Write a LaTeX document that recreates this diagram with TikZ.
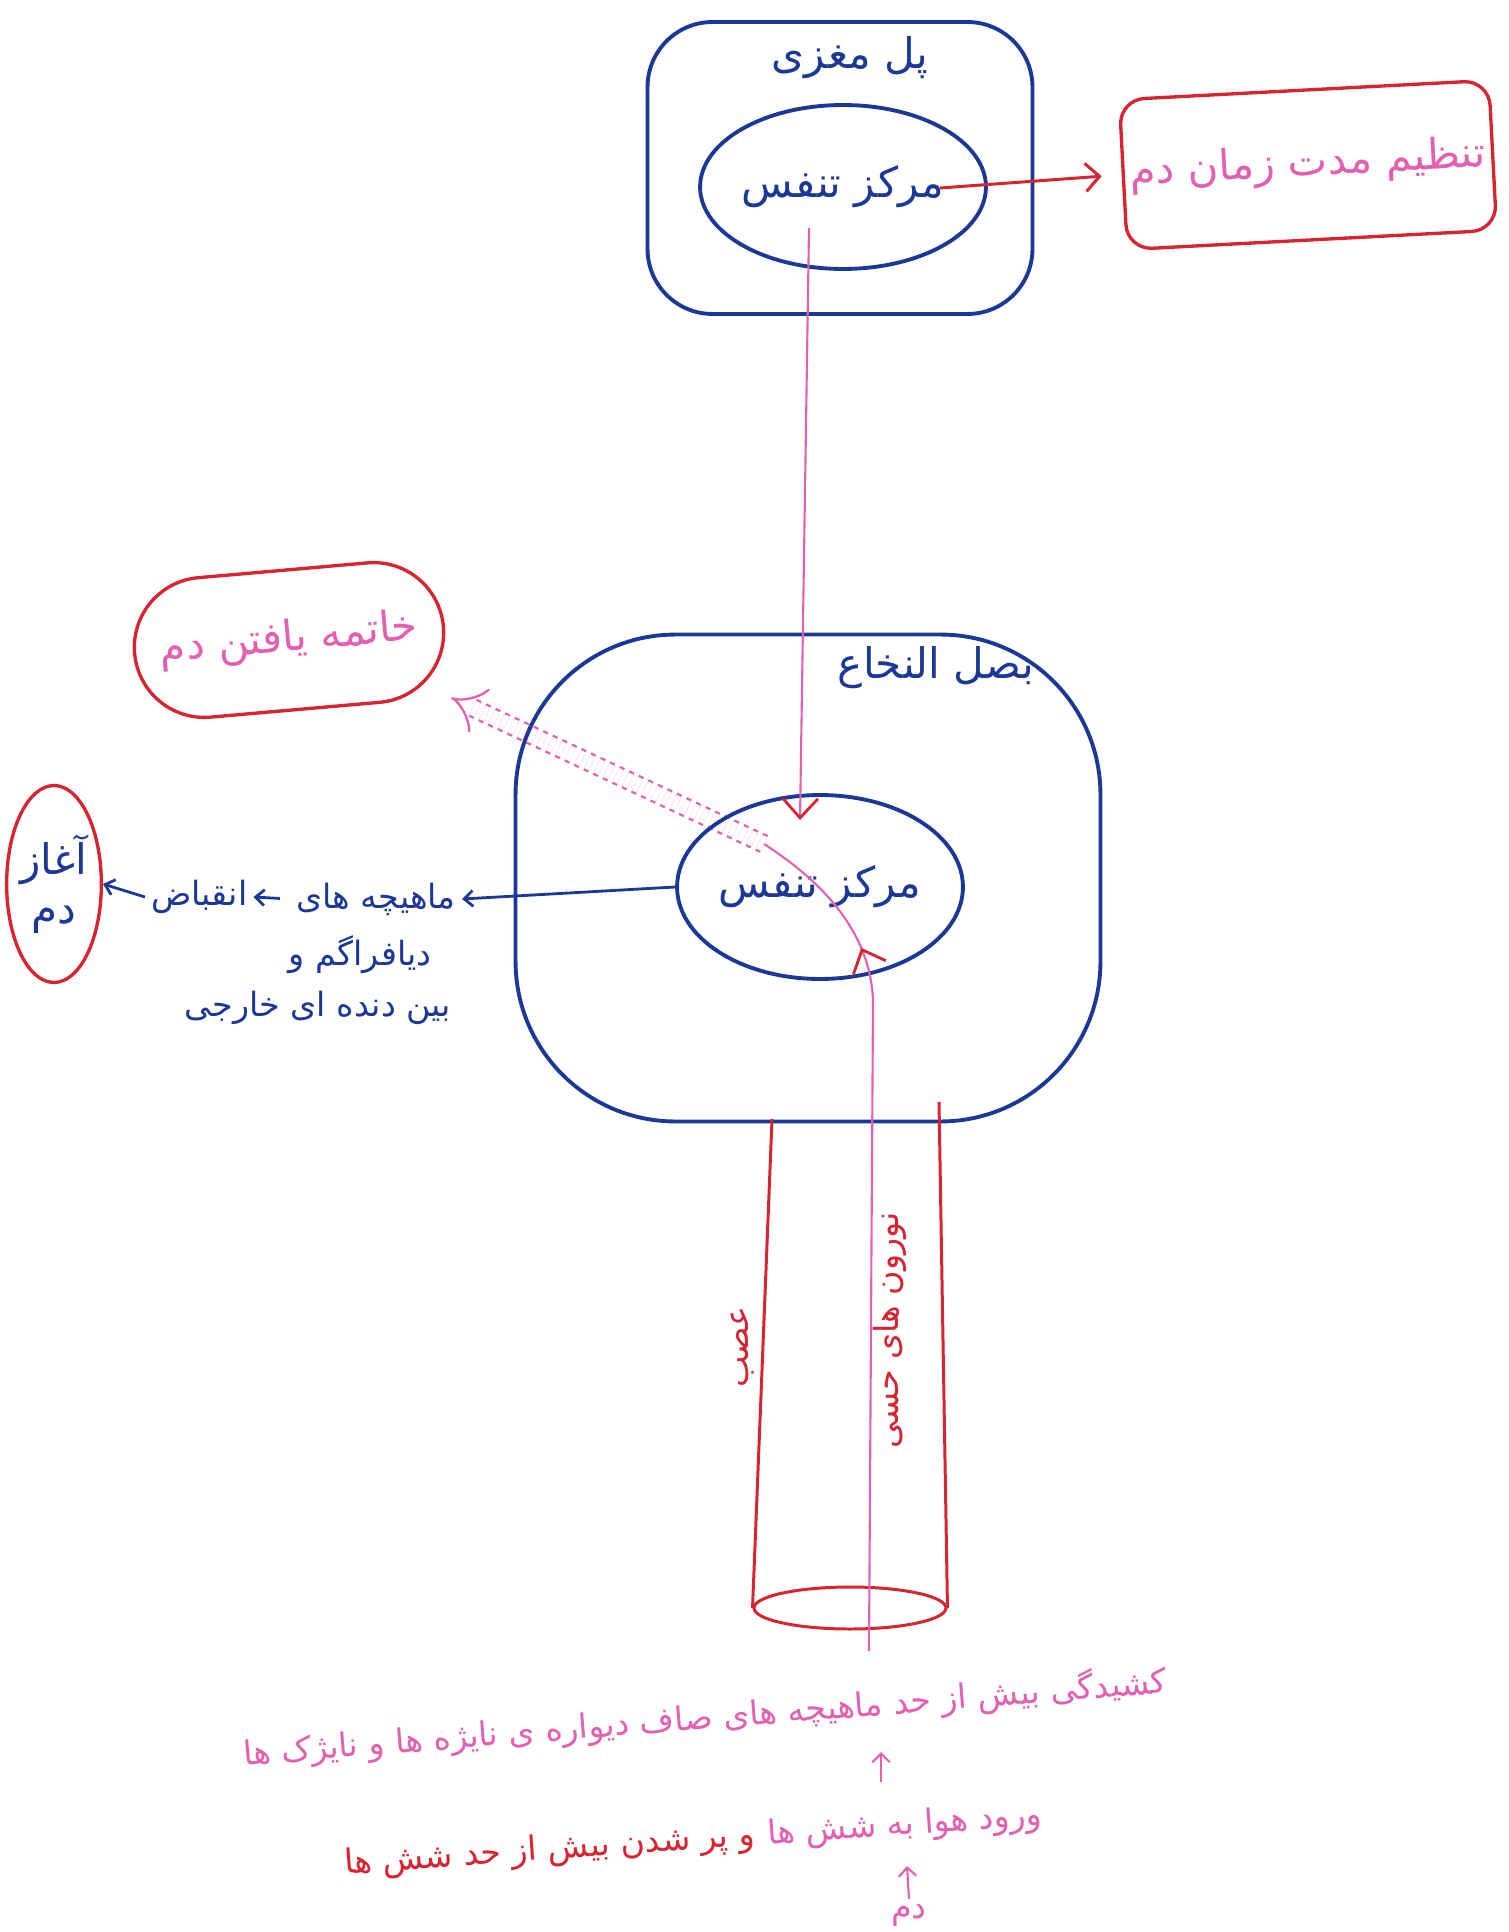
\documentclass[tikz,border=0pt]{standalone}
\usepackage{fontspec}
\usepackage{tikz}
\usetikzlibrary{arrows.meta,shapes.geometric,decorations.markings}
\newfontfamily\fafont[Script=Arabic]{DejaVu Sans}
\TeXXeTstate=1
\newcommand{\fatext}[1]{{\fafont\beginR #1\endR}}

\definecolor{penblue}{RGB}{28,56,150}
\definecolor{penred}{RGB}{214,36,48}
\definecolor{penpink}{RGB}{226,96,178}

\pgfdeclarelayer{background}
\pgfsetlayers{background,main}

\tikzset{
  bigfa/.style={font=\fontsize{24}{28}\selectfont},
  midfa/.style={font=\fontsize{19}{23}\selectfont},
  bluebox/.style={draw=penblue, line width=2.2pt},
  centre/.style={ellipse, draw=penblue, line width=2.2pt, text=penblue, inner sep=0pt, bigfa},
  redbox/.style={draw=penred, line width=1.9pt, text=penpink, bigfa},
  blueline/.style={draw=penblue, line width=1.6pt, -{Straight Barb[length=5pt,width=9pt]}},
  redline/.style={draw=penred, line width=1.7pt},
  pinkline/.style={draw=penpink, line width=1.2pt},
  redbarb/.style={-{Straight Barb[color=penred,length=11pt,width=20pt,line width=1.6pt]}},
}

\begin{document}
\begin{tikzpicture}[x=0.02cm, y=-0.02cm]
  \useasboundingbox (0,0) rectangle (1508,1932);

  % pons
  \node[bluebox, rounded corners=1.3cm, minimum width=7.7cm, minimum height=5.84cm] (pons) at (840,168) {};
  \node[text=penblue, bigfa] (ponsLabel) at (850,58) {\fatext{پل مغزی}};
  \node[centre, minimum width=4.72cm, minimum height=3.28cm] (ponsCentre) at (843,187) {\fatext{مرکز تنفس}};

  \node[redbox, rounded corners=0.5cm, rotate=3, minimum width=7.4cm, minimum height=3.0cm] (timing) at (1308,165) {\fatext{تنظیم مدت زمان دم}};
  \coordinate (timingFrom) at (940,188);
  \draw[redline, -{Straight Barb[length=8pt,width=16pt]}, shorten >=0.4cm] (timingFrom) -- (timing.west);

  % medulla
  \node[bluebox, rounded corners=3.2cm, minimum width=11.7cm, minimum height=9.74cm] (medulla) at (808,878) {};
  \node[text=penblue, bigfa] (medullaLabel) at (936,668) {\fatext{بصل النخاع}};
  \node[centre, minimum width=5.12cm, minimum height=3.68cm] (medullaCentre) at (820,887) {\fatext{مرکز تنفس}};

  \coordinate (descFrom) at (809,228);
  \coordinate (descTo) at (800,820);
  \draw[pinkline, redbarb] (descFrom) -- (descTo);

  % muscles
  \node[text=penblue, midfa] (muscles) at (376,899) {\fatext{ماهیچه های}};
  \node[text=penblue, midfa] (diaphragm) at (360,955) {\fatext{دیافراگم و}};
  \node[text=penblue, midfa] (intercostal) at (318,1008) {\fatext{بین دنده ای خارجی}};
  \node[text=penblue, midfa, anchor=west] (contract) at (145,897) {\fatext{انقباض}};
  \node[ellipse, draw=penred, line width=1.9pt, text=penblue, inner sep=0pt, align=center, minimum width=1.78cm, minimum height=3.94cm, bigfa] (inspStart) at (54,884) {\fatext{آغاز}\\\fatext{دم}};

  \draw[blueline] (medullaCentre.west) -- (muscles.east);
  \draw[blueline, shorten <=0.2cm] (muscles.west) -- (contract.east);
  \draw[blueline] (contract.west) -- (inspStart.east);

  % end of inspiration
  \node[redbox, rounded corners=1.4cm, rotate=5, minimum width=6.2cm, minimum height=2.8cm] (inspEnd) at (289,640) {\fatext{خاتمه یافتن دم}};

  % nerve
  \node[ellipse, draw=penred, line width=1.7pt, inner sep=0pt, minimum width=3.84cm, minimum height=0.84cm] (nerveEnd) at (850,1608) {};
  \coordinate (nerveTopL) at (772,1119);
  \coordinate (nerveTopR) at (939,1102);
  \draw[redline] (nerveTopL) -- (nerveEnd.west);
  \draw[redline] (nerveTopR) -- (nerveEnd.east);
  \node[text=penred, rotate=90, midfa] (nerveLabel) at (743,1347) {\fatext{عصب}};
  \node[text=penred, rotate=90, midfa] (sensLabel) at (890,1330) {\fatext{نورون های حسی}};

  % sensory path
  \coordinate (sensFrom) at (869,1651);
  \coordinate (sensTurn) at (873,1000);
  \coordinate (sensTo) at (764,844);
  \draw[pinkline, postaction={decorate, decoration={markings,
      mark=at position 0.83 with {\arrow{Straight Barb[color=penred,length=11pt,width=20pt,line width=1.6pt]}}}}]
    (sensFrom) -- (sensTurn) .. controls (870,930) and (820,880) .. (sensTo);
  \begin{pgfonlayer}{background}
    \draw[draw=penpink, line width=1.3pt, dashed, double, double distance=0.3cm, -{Implies}] (sensTo) -- (inspEnd.south east);
  \end{pgfonlayer}

  % bottom
  \node[text=penpink, rotate=4.5, midfa] (stretch) at (705,1718) {\fatext{کشیدگی بیش از حد ماهیچه های صاف دیواره ی نایژه ها و نایژک ها}};
  \node[text=penpink, rotate=4, midfa] (airIn) at (905,1826) {\fatext{ورود هوا به شش ها}};
  \node[text=penred, rotate=4, midfa, anchor=east] (overfill) at (airIn.west) {\fatext{و پر شدن بیش از حد شش ها}};
  \coordinate (up1From) at (881,1782);
  \coordinate (up1To) at (881,1752);
  \draw[pinkline, -{Straight Barb[length=5pt,width=10pt]}] (up1From) -- (up1To);
  \node[text=penpink, midfa] (inhale) at (909,1916) {\fatext{دم}};
  \coordinate (up2To) at (907,1866);
  \draw[pinkline, -{Straight Barb[length=5pt,width=10pt]}] (inhale.north) -- (up2To);
\end{tikzpicture}
\end{document}
